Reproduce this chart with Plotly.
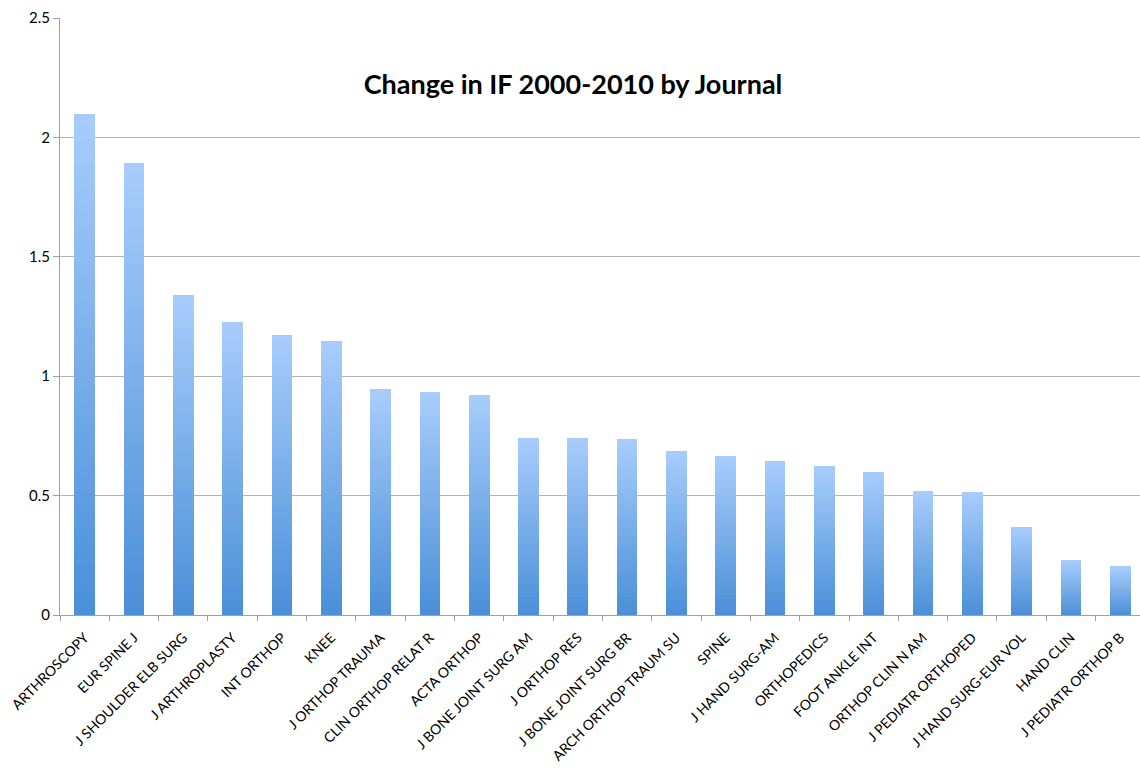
import plotly.graph_objects as go

journals = [
    "ARTHROSCOPY", "EUR SPINE J", "J SHOULDER ELB SURG", "J ARTHROPLASTY",
    "INT ORTHOP", "KNEE", "J ORTHOP TRAUMA", "CLIN ORTHOP RELAT R",
    "ACTA ORTHOP", "J BONE JOINT SURG AM", "J ORTHOP RES", "J BONE JOINT SURG BR",
    "ARCH ORTHOP TRAUM SU", "SPINE", "J HAND SURG-AM", "ORTHOPEDICS",
    "FOOT ANKLE INT", "ORTHOP CLIN N AM", "J PEDIATR ORTHOPED",
    "J HAND SURG-EUR VOL", "HAND CLIN", "J PEDIATR ORTHOP B",
]
change_if = [
    2.10, 1.894, 1.339, 1.227, 1.174, 1.146, 0.947, 0.932, 0.923,
    0.743, 0.741, 0.736, 0.688, 0.667, 0.643, 0.625, 0.598,
    0.520, 0.515, 0.369, 0.230, 0.202,
]

# per-bar vertical gradient, drawn as stacked slices of each bar
n_slices = 40
bottom_rgb = (74, 143, 216)
top_rgb = (168, 205, 252)

fig = go.Figure()
for k in range(n_slices):
    t = (k + 0.5) / n_slices
    c = tuple(round(b + (tp - b) * t) for b, tp in zip(bottom_rgb, top_rgb))
    fig.add_trace(go.Bar(
        x=journals,
        y=[v / n_slices for v in change_if],
        width=0.42,
        marker=dict(color="rgb(%d,%d,%d)" % c, line=dict(width=0)),
        showlegend=False,
        hoverinfo="skip",
    ))

fig.update_layout(
    barmode="stack",
    bargap=0,
    width=1140, height=779,
    margin=dict(l=60, r=0, t=18, b=164),
    plot_bgcolor="white",
    paper_bgcolor="white",
    font=dict(family="Lato, Open Sans, sans-serif", color="black", size=14),
    title=dict(
        text="<b>Change in IF 2000-2010 by Journal</b>",
        x=573 / 1140, xanchor="center",
        y=1 - 85 / 779, yanchor="middle",
        font=dict(size=27, family="Lato, Open Sans, sans-serif", color="black"),
    ),
)
fig.update_xaxes(
    range=[-0.5, 21.4],
    tickangle=-45,
    tickson="boundaries",
    ticks="outside", ticklen=5, tickcolor="#a0a0a0",
    ticklabelstandoff=8,
    showline=True, linecolor="#a0a0a0", linewidth=1,
    showgrid=False,
    tickfont=dict(size=14, color="black"),
)
fig.update_yaxes(
    range=[0, 2.5],
    tickvals=[0, 0.5, 1, 1.5, 2, 2.5],
    ticktext=["0", "0.5", "1", "1.5", "2", "2.5"],
    ticks="outside", ticklen=6, tickcolor="#a0a0a0",
    showline=True, linecolor="#a0a0a0", linewidth=1,
    showgrid=True, gridcolor="#b4b4b4", gridwidth=1,
    zeroline=False,
    tickfont=dict(size=15, color="black"),
)

fig.write_html("out.html")
